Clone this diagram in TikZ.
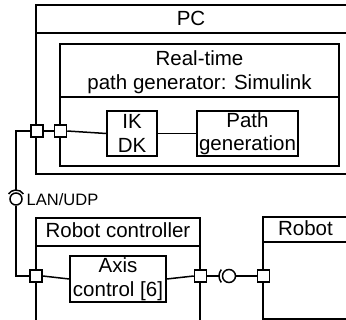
\documentclass[tikz,border=0pt]{standalone}
\usepackage{fontspec}
\setmainfont{Liberation Sans}
\begin{document}
\begin{tikzpicture}[x=1pt,y=-1pt,line width=1.5pt,
  txt/.style={font=\fontsize{20.5}{23.5}\selectfont,inner sep=0pt,align=center},
  block/.style={txt,draw,fill=white},
  port/.style={draw,fill=white,minimum size=12pt,inner sep=0pt},
  ball/.style={draw,fill=white,circle,inner sep=0pt}]
\useasboundingbox (0,0) rectangle (346,320);
\clip (0,0) rectangle (346,320);

% PC container and the Simulink subsystem inside it
\draw (360,5) -- (36,5) -- (36,174) -- (360,174);
\draw (36,33) -- (360,33);
\draw (60,44) rectangle (339,166);
\draw (60,97) -- (339,97);
\node[txt,anchor=base] (pclbl) at (191,26) {PC};
\node[txt] (simlbl) at (199.5,72) {Real-time\\path generator: Simulink};

% robot controller and robot containers
\draw (36,330) -- (36,218) -- (200,218) -- (200,330);
\draw (36,246) -- (200,246);
\node[txt,anchor=base] (rclbl) at (118,237.5) {Robot controller};
\draw (360,217) -- (263,217) -- (263,319) -- (360,319);
\draw (263,242) -- (360,242);
\node[txt,anchor=base] (roblbl) at (305.5,236) {Robot};

% inner blocks
\node[block,minimum width=50pt,minimum height=45pt] (ikdk) at (132,133.5) {IK\\DK};
\node[block,minimum width=101pt,minimum height=45pt] (pathgen) at (247.5,133.5) {Path\\generation};
\node[block,minimum width=96pt,minimum height=46pt] (axis) at (118,279) {Axis\\control [6]};

% ports on the container borders
\node[port] (pcport) at (37,131) {};
\node[port] (simport) at (60.5,131) {};
\node[port] (rcleft) at (36,276) {};
\node[port] (rcright) at (200.5,276) {};
\node[port] (robport) at (263.5,276) {};

% LAN/UDP lollipop between PC and robot controller
\node[ball,minimum size=12pt] (lanball) at (16,199) {};
\coordinate (lanbend) at (16,131);
\coordinate (lantop) at (16,190);
\draw ([shift={(34:9pt)}]lanball.center) arc[start angle=34,end angle=146,radius=9pt];
\node[anchor=base west,inner sep=0pt,font=\fontsize{16.5}{18}\selectfont] (lanlbl) at (26,205.5) {LAN/UDP};

% lollipop between robot controller and robot
\node[ball,minimum size=13pt] (ballR) at (229,276) {};
\coordinate (sockR) at (219,276);
\draw ([shift={(140:10pt)}]ballR.center) arc[start angle=140,end angle=220,radius=10pt];

% connectors
\draw (pcport.west) -- (lanbend) -- (lantop);
\draw (lanball.south) |- (rcleft.west);
\draw (pcport.east) -- (simport.west);
\draw (simport.east) -- (ikdk.west);
\draw (ikdk.east) -- (pathgen.west);
\draw (rcleft.east) -- (axis.west);
\draw (axis.east) -- (rcright.west);
\draw (rcright.east) -- (sockR);
\draw (ballR.east) -- (robport.west);
\end{tikzpicture}
\end{document}
